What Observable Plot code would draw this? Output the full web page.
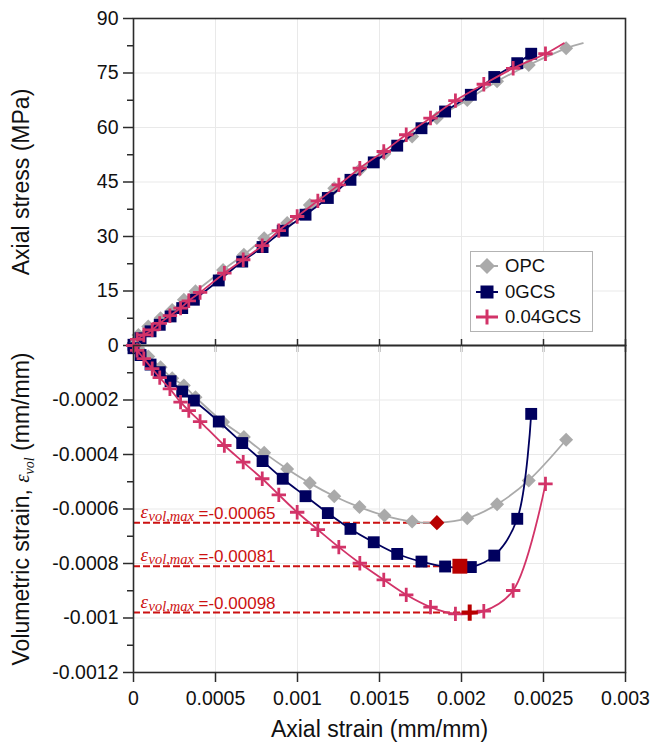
<!DOCTYPE html>
<html><head><meta charset="utf-8">
<script src="https://cdn.jsdelivr.net/npm/d3@7"></script>
<script src="https://cdn.jsdelivr.net/npm/@observablehq/plot@0.6"></script>
<style>
body{margin:0;background:#fff;}
#wrap{position:relative;width:651px;height:742px;overflow:hidden;font-family:Arial,"Liberation Sans",sans-serif;}
#wrap svg{position:absolute;left:0;}
#legend{position:absolute;left:470px;top:251px;width:123px;height:81px;border:1px solid #b3b3b3;background:#fff;box-sizing:border-box;font-size:18.5px;color:#111;}
#legend .row{position:absolute;left:0;height:24px;display:flex;align-items:center;}
#legend svg{position:static;}
</style></head>
<body><div id="wrap"></div>
<script>
// ---- data ----
const seriesNames = ["OPC", "0GCS", "0.04GCS"];
const seriesColors = ["#aaaaaa", "#00005e", "#d23368"];

const opcStrain = [0, 0.00003, 0.00009, 0.000165, 0.000236, 0.000307, 0.000378, 0.000546, 0.000673, 0.000797, 0.000937, 0.001075, 0.001224, 0.001378, 0.00153, 0.001699, 0.00185, 0.002035, 0.002217, 0.00241, 0.002638, 0.00274];
const opcStress = [0.6, 2.9, 5.2, 7.5, 9.8, 12.6, 14.9, 20.8, 25.0, 29.5, 33.7, 38.7, 43.3, 48.3, 52.8, 57.5, 62.6, 67.6, 72.7, 77.2, 81.8, 83.2];
const opcVol = [0, -0.00001, -0.00004, -0.00008, -0.00012, -0.000147, -0.00019, -0.000281, -0.000336, -0.000394, -0.000453, -0.000505, -0.000553, -0.000593, -0.000624, -0.000646, -0.00065, -0.000634, -0.000583, -0.000495, -0.000346];

const g0Strain = [0, 0.000043, 0.000104, 0.00016, 0.000226, 0.000297, 0.000368, 0.00052, 0.000663, 0.000787, 0.00091, 0.001049, 0.001185, 0.001323, 0.001465, 0.001608, 0.001756, 0.0019, 0.002057, 0.0022, 0.00234, 0.002425];
const g0Stress = [0.2, 2.0, 3.9, 5.7, 8.0, 10.3, 12.6, 17.9, 23.1, 27.1, 31.6, 36.0, 40.6, 45.6, 50.4, 55.0, 59.8, 64.4, 69.0, 73.9, 77.7, 80.3];
const g0Vol = [-0.00001, -0.000035, -0.00007, -0.000098, -0.000131, -0.000169, -0.000202, -0.000279, -0.000358, -0.000424, -0.000489, -0.000553, -0.000615, -0.000673, -0.000722, -0.000765, -0.000793, -0.000811, -0.000813, -0.000771, -0.000636, -0.000251];

const g4Strain = [0, 0.000022, 0.000063, 0.000114, 0.00016, 0.000222, 0.000287, 0.000337, 0.000406, 0.000554, 0.000669, 0.000785, 0.000886, 0.000998, 0.001124, 0.001252, 0.00138, 0.001526, 0.001663, 0.001811, 0.001963, 0.002136, 0.002315, 0.002512, 0.002624];
const g4Stress = [0, 1.7, 2.9, 4.3, 6.1, 8.2, 10.3, 12.3, 14.6, 19.9, 23.6, 27.5, 31.6, 35.5, 39.8, 44.2, 48.8, 53.4, 58.0, 62.6, 67.4, 71.9, 76.3, 80.3, 83.2];
const g4Vol = [0, -0.000018, -0.000048, -0.000085, -0.000118, -0.000159, -0.000208, -0.000239, -0.000279, -0.000367, -0.000428, -0.000489, -0.000548, -0.000612, -0.000676, -0.00074, -0.000799, -0.00086, -0.000915, -0.00096, -0.000985, -0.000975, -0.000899, -0.000508];

const minStrain = [0.00185, 0.00199, 0.00205];
const minVol = [-0.00065, -0.00081, -0.00098];
const minLabel = ["=-0.00065", "=-0.00081", "=-0.00098"];

const xTicks = [0, 0.0005, 0.001, 0.0015, 0.002, 0.0025, 0.003];
const stressTicks = [0, 15, 30, 45, 60, 75, 90];
const stressMinor = [7.5, 22.5, 37.5, 52.5, 67.5, 82.5];
const volTicks = [-0.0002, -0.0004, -0.0006, -0.0008, -0.001, -0.0012];
const volMinor = [-0.0001, -0.0003, -0.0005, -0.0007, -0.0009, -0.0011];
const stressGrid = [15, 30, 45, 60, 75];
const volGrid = [-0.0002, -0.0004, -0.0006, -0.0008, -0.001];
const xGrid = [0.0005, 0.001, 0.0015, 0.002, 0.0025];

const yLabelTop = "Axial stress (MPa)";
const yLabelBottom = "Volumetric strain, εvol (mm/mm)";
const xLabel = "Axial strain (mm/mm)";

// ---- tables ----
const mk = (name, strain, vals) => vals.map((v, i) => ({series: name, x: strain[i], v}));
const topData = [mk("OPC", opcStrain, opcStress), mk("0GCS", g0Strain, g0Stress), mk("0.04GCS", g4Strain, g4Stress)];
const botData = [mk("OPC", opcStrain, opcVol), mk("0GCS", g0Strain, g0Vol), mk("0.04GCS", g4Strain, g4Vol)];
// markers: OPC & 0.04GCS top lines extend one point beyond last marker
const topMarkers = [topData[0].slice(0, -1), topData[1], topData[2].slice(0, -1)];

const red = "#cc1111";
const darkRed = "#b80000";
const sans = "Arial, 'Liberation Sans', sans-serif";
const serif = "'Liberation Serif', 'DejaVu Serif', serif";
const axisColor = "#2b2b2b";

function seriesMarks(lines, markers) {
  const out = [];
  const cfg = [
    {symbol: "diamond2", r: 6.3, fill: seriesColors[0], stroke: "none"},
    {symbol: "square", r: 6.7, fill: seriesColors[1], stroke: "none"},
    {symbol: "plus", r: 4.7, fill: "none", stroke: seriesColors[2], strokeWidth: 2.8}
  ];
  for (let k = 0; k < 3; k++) {
    out.push(Plot.line(lines[k], {x: "x", y: "v", stroke: seriesColors[k], strokeWidth: 1.8, curve: "catmull-rom"}));
    out.push(Plot.dot(markers[k], {x: "x", y: "v", ...cfg[k]}));
  }
  return out;
}

const baseStyle = {fontFamily: sans, fontSize: "19.5px", background: "transparent", overflow: "visible", color: "#111"};

const topPlot = Plot.plot({
  width: 651, height: 360,
  marginTop: 18, marginBottom: 15, marginLeft: 133, marginRight: 26,
  style: baseStyle,
  x: {domain: [0, 0.003]},
  y: {domain: [0, 90]},
  marks: [
    Plot.gridX(xGrid, {stroke: "#e9e9e9", strokeOpacity: 1}),
    Plot.gridY(stressGrid, {stroke: "#e9e9e9", strokeOpacity: 1}),
    Plot.axisY(stressTicks, {tickSize: 10, tickPadding: 5, tickFormat: d => String(d), label: null, stroke: axisColor, strokeWidth: 1.5}),
    Plot.axisY(stressMinor, {tickSize: 6, tickFormat: () => "", label: null, stroke: axisColor, strokeWidth: 1.5}),
    Plot.axisX(xTicks, {anchor: "bottom", tickSize: 7, tickFormat: () => "", label: null, stroke: axisColor, strokeWidth: 1.5}),
    Plot.text([yLabelTop], {frameAnchor: "left", dx: -121, rotate: -90, textAnchor: "middle", lineAnchor: "top", fontSize: 23, fill: "#111"}),
    ...seriesMarks(topData, topMarkers),
    Plot.frame({stroke: axisColor, strokeWidth: 1.6})
  ]
});

const botPlot = Plot.plot({
  width: 651, height: 412,
  marginTop: 15, marginBottom: 70, marginLeft: 133, marginRight: 26,
  style: baseStyle,
  x: {domain: [0, 0.003]},
  y: {domain: [-0.0012, 0]},
  marks: [
    Plot.gridX(xGrid, {stroke: "#e9e9e9", strokeOpacity: 1}),
    Plot.gridY(volGrid, {stroke: "#e9e9e9", strokeOpacity: 1}),
    Plot.axisY(volTicks, {tickSize: 10, tickPadding: 5, tickFormat: d => String(d), label: null, stroke: axisColor, strokeWidth: 1.5}),
    Plot.axisY(volMinor, {tickSize: 6, tickFormat: () => "", label: null, stroke: axisColor, strokeWidth: 1.5}),
    Plot.axisX(xTicks, {anchor: "bottom", tickSize: 10, tickPadding: 9, tickFormat: d => String(d), label: null, stroke: axisColor, strokeWidth: 1.5}),
    Plot.axisX(xTicks, {anchor: "top", tickSize: 7, tickFormat: () => "", label: null, stroke: axisColor, strokeWidth: 1.5}),
    Plot.text([yLabelBottom], {frameAnchor: "left", dx: -121, rotate: -90, textAnchor: "middle", lineAnchor: "top", fontSize: 23, fill: "#111"}),
    Plot.text([xLabel], {frameAnchor: "bottom", dy: 57, textAnchor: "middle", lineAnchor: "middle", fontSize: 23, fill: "#111"}),
    Plot.ruleY(minVol, {y: d => d, x1: 0, x2: (d, i) => minStrain[i], stroke: red, strokeWidth: 2, strokeDasharray: "7,3"}),
    ...seriesMarks(botData, botData),
    Plot.dot([0], {x: () => minStrain[0], y: () => minVol[0], symbol: "diamond2", r: 6.8, fill: darkRed, stroke: "none"}),
    Plot.dot([1], {x: () => minStrain[1], y: () => minVol[1], symbol: "square", r: 8.4, fill: darkRed, stroke: "none"}),
    Plot.dot([2], {x: () => minStrain[2], y: () => minVol[2], symbol: "plus", r: 5.3, stroke: darkRed, strokeWidth: 4}),
    Plot.text(minVol, {x: 0, y: d => d, text: () => "ε", dx: 7, dy: -11, textAnchor: "start", fontFamily: serif, fontStyle: "italic", fontSize: 19, fill: red}),
    Plot.text(minVol, {x: 0, y: d => d, text: () => "vol,max", dx: 15, dy: -6.5, textAnchor: "start", fontFamily: serif, fontStyle: "italic", fontSize: 14.5, fill: red}),
    Plot.text(minVol, {x: 0, y: d => d, text: (d, i) => minLabel[i], dx: 65, dy: -9.5, textAnchor: "start", fontFamily: sans, fontSize: 17, fill: red}),
    Plot.frame({stroke: axisColor, strokeWidth: 1.6})
  ]
});

// rich text for the volumetric-strain axis title
d3.select(botPlot).selectAll("text").filter(function () { return this.textContent === yLabelBottom; }).each(function () {
  const t = d3.select(this);
  t.text(null);
  t.append("tspan").text("Volumetric strain, ");
  t.append("tspan").attr("font-family", serif).attr("font-style", "italic").attr("font-size", "21px").text("ε");
  t.append("tspan").attr("font-family", serif).attr("font-style", "italic").attr("font-size", "14px").attr("dy", 5).text("vol");
  t.append("tspan").attr("dy", -5).text(" (mm/mm)");
});

const wrap = document.getElementById("wrap");
topPlot.style.top = "0px";
botPlot.style.top = "330px";
wrap.appendChild(topPlot);
wrap.appendChild(botPlot);

// legend
const legend = document.createElement("div");
legend.id = "legend";
const legendSym = [
  `<path d="M-11,0H11" stroke="${seriesColors[0]}" stroke-width="2"/><path d="M0,-8L8,0L0,8L-8,0Z" fill="${seriesColors[0]}"/>`,
  `<path d="M-11,0H11" stroke="${seriesColors[1]}" stroke-width="2"/><rect x="-6.5" y="-6.5" width="13" height="13" fill="${seriesColors[1]}"/>`,
  `<path d="M-11,0H11M0,-7.5V7.5" stroke="${seriesColors[2]}" stroke-width="3"/>`
];
seriesNames.forEach((name, i) => {
  const row = document.createElement("div");
  row.className = "row";
  row.style.top = (2 + i * 25.5) + "px";
  row.innerHTML = `<svg width="32" height="24" viewBox="-16 -12 32 24" style="margin-right:2px">${legendSym[i]}</svg><span>${name}</span>`;
  legend.appendChild(row);
});
wrap.appendChild(legend);
</script>
</body></html>
